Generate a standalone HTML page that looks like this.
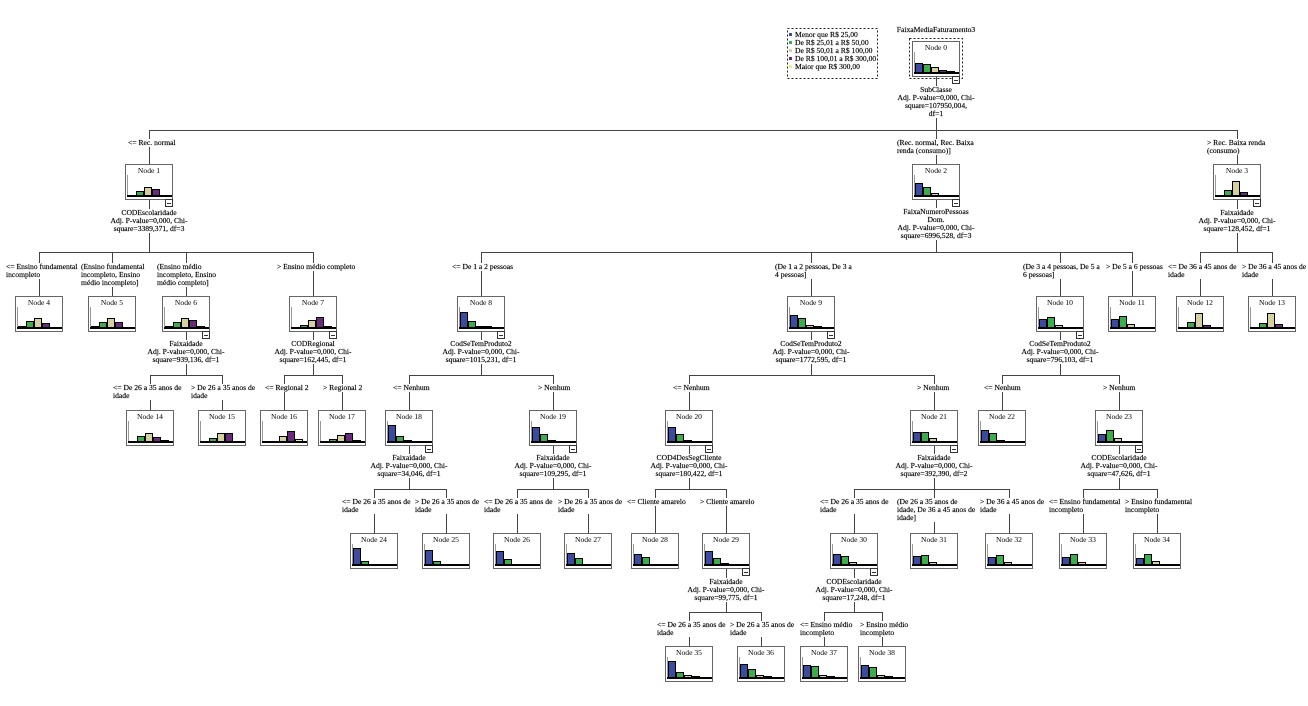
<!DOCTYPE html>
<html><head><meta charset="utf-8">
<style>
html,body{margin:0;padding:0;background:#fff}
body{width:1308px;height:706px;position:relative;overflow:hidden;font-family:"Liberation Serif",serif}
svg{position:absolute;left:0;top:0}
svg text{font-family:"Liberation Serif",serif;font-size:7.6px;fill:#000;text-anchor:middle}
.a{fill:#3b4ca0;stroke:#000}.g{fill:#3bae4c;stroke:#000}.e{fill:#d6cf9e;stroke:#000}.p{fill:#6b2b7c;stroke:#000}.y{fill:#eeee88;stroke:#000}
.s,.l,.lg{position:absolute;background:#fff;white-space:nowrap;font:7.6px/8px "Liberation Serif",serif;color:#000;-webkit-text-stroke:0.15px #000}
.s{transform:translateX(-50%);text-align:center}
.lg{background:transparent}
.sq{display:inline-block;width:3px;height:3px;margin-right:3px;vertical-align:1px}
</style></head><body>
<svg width="1308" height="706" viewBox="0 0 1308 706" shape-rendering="crispEdges">
<defs>
<g id="f"><rect x=".5" y=".5" width="47" height="35" fill="#fff" stroke="#666"/><path d="M2.5 11V31" stroke="#999"/><rect x="2" y="31" width="45" height="2" fill="#000"/></g>
<g id="tg"><rect x="40.5" y="35.5" width="7" height="7" fill="#fff" stroke="#333"/><path d="M42 39.5H46" stroke="#333"/></g>
</defs>
<path fill="none" stroke="#444" d="M936.5 77V130 M149 130.5H1238 M149.5 130V164 M936.5 130V164 M1237.5 130V164
M149.5 200V252 M39 252.5H314 M39.5 252V296 M112.5 252V296 M186.5 252V296 M313.5 252V296
M936.5 200V252 M481 252.5H1133 M481.5 252V296 M811.5 252V296 M1060.5 252V296 M1132.5 252V296
M1237.5 200V252 M1200 252.5H1273 M1200.5 252V296 M1272.5 252V296
M186.5 332V375 M150 375.5H223 M150.5 375V410 M222.5 375V410
M313.5 332V375 M284 375.5H343 M284.5 375V410 M342.5 375V410
M481.5 332V375 M409 375.5H554 M409.5 375V410 M553.5 375V410
M811.5 332V375 M689 375.5H935 M689.5 375V410 M934.5 375V410
M1060.5 332V375 M1002 375.5H1120 M1002.5 375V410 M1119.5 375V410
M409.5 446V489 M374 489.5H447 M374.5 489V533 M446.5 489V533
M553.5 446V489 M517 489.5H589 M517.5 489V533 M588.5 489V533
M689.5 446V489 M655 489.5H727 M655.5 489V533 M726.5 489V533
M934.5 446V489 M854 489.5H1010 M854.5 489V533 M934.5 489V533 M1009.5 489V533
M1119.5 446V489 M1083 489.5H1158 M1083.5 489V533 M1157.5 489V533
M726.5 569V612 M689 612.5H762 M689.5 612V646 M761.5 612V646
M854.5 569V612 M824 612.5H883 M824.5 612V646 M882.5 612V646"/>

<rect x="787.5" y="28.5" width="90" height="50" fill="none" stroke="#222" stroke-dasharray="2,2"/>
<rect x="909.5" y="38.5" width="53" height="40" fill="none" stroke="#222" stroke-dasharray="2,2"/>

<g transform="translate(912,41)"><use href="#f"/><text x="24" y="9">Node 0</text><rect class="a" x="3.5" y="22.5" width="7" height="9"/><rect class="g" x="11.5" y="23.5" width="7" height="8"/><rect class="e" x="19.5" y="26.5" width="7" height="5"/><rect class="p" x="27.5" y="29.5" width="7" height="2"/><rect class="y" x="35.5" y="30.5" width="7" height="1"/><use href="#tg"/></g>

<g transform="translate(125,164)"><use href="#f"/><text x="24" y="9">Node 1</text><rect class="g" x="11.5" y="27.5" width="7" height="4"/><rect class="e" x="19.5" y="23.5" width="7" height="8"/><rect class="p" x="27.5" y="25.5" width="7" height="6"/><use href="#tg"/></g>
<g transform="translate(912,164)"><use href="#f"/><text x="24" y="9">Node 2</text><rect class="a" x="3.5" y="19.5" width="7" height="12"/><rect class="g" x="11.5" y="23.5" width="7" height="8"/><rect class="e" x="19.5" y="29.5" width="7" height="2"/><use href="#tg"/></g>
<g transform="translate(1213,164)"><use href="#f"/><text x="24" y="9">Node 3</text><rect class="g" x="11.5" y="26.5" width="7" height="5"/><rect class="e" x="19.5" y="17.5" width="7" height="14"/><rect class="p" x="27.5" y="28.5" width="7" height="3"/><use href="#tg"/></g>

<g transform="translate(15,296)"><use href="#f"/><text x="24" y="9">Node 4</text><rect class="a" x="3.5" y="30.5" width="7" height="1"/><rect class="g" x="11.5" y="25.5" width="7" height="6"/><rect class="e" x="19.5" y="22.5" width="7" height="9"/><rect class="p" x="27.5" y="27.5" width="7" height="4"/></g>
<g transform="translate(88,296)"><use href="#f"/><text x="24" y="9">Node 5</text><rect class="a" x="3.5" y="30.5" width="7" height="1"/><rect class="g" x="11.5" y="26.5" width="7" height="5"/><rect class="e" x="19.5" y="22.5" width="7" height="9"/><rect class="p" x="27.5" y="26.5" width="7" height="5"/></g>
<g transform="translate(162,296)"><use href="#f"/><text x="24" y="9">Node 6</text><rect class="a" x="3.5" y="30.5" width="7" height="1"/><rect class="g" x="11.5" y="26.5" width="7" height="5"/><rect class="e" x="19.5" y="22.5" width="7" height="9"/><rect class="p" x="27.5" y="24.5" width="7" height="7"/><rect class="y" x="35.5" y="30.5" width="7" height="1"/><use href="#tg"/></g>
<g transform="translate(289,296)"><use href="#f"/><text x="24" y="9">Node 7</text><rect class="g" x="11.5" y="29.5" width="7" height="2"/><rect class="e" x="19.5" y="24.5" width="7" height="7"/><rect class="p" x="27.5" y="21.5" width="7" height="10"/><rect class="y" x="35.5" y="30.5" width="7" height="1"/><use href="#tg"/></g>
<g transform="translate(457,296)"><use href="#f"/><text x="24" y="9">Node 8</text><rect class="a" x="3.5" y="16.5" width="7" height="15"/><rect class="g" x="11.5" y="25.5" width="7" height="6"/><rect class="e" x="19.5" y="30.5" width="7" height="1"/><rect class="p" x="27.5" y="30.5" width="7" height="1"/><use href="#tg"/></g>
<g transform="translate(787,296)"><use href="#f"/><text x="24" y="9">Node 9</text><rect class="a" x="3.5" y="19.5" width="7" height="12"/><rect class="g" x="11.5" y="22.5" width="7" height="9"/><rect class="e" x="19.5" y="29.5" width="7" height="2"/><rect class="p" x="27.5" y="30.5" width="7" height="1"/><use href="#tg"/></g>
<g transform="translate(1036,296)"><use href="#f"/><text x="24" y="9">Node 10</text><rect class="a" x="3.5" y="23.5" width="7" height="8"/><rect class="g" x="11.5" y="21.5" width="7" height="10"/><rect class="e" x="19.5" y="29.5" width="7" height="2"/><use href="#tg"/></g>
<g transform="translate(1108,296)"><use href="#f"/><text x="24" y="9">Node 11</text><rect class="a" x="3.5" y="23.5" width="7" height="8"/><rect class="g" x="11.5" y="20.5" width="7" height="11"/><rect class="e" x="19.5" y="28.5" width="7" height="3"/></g>
<g transform="translate(1176,296)"><use href="#f"/><text x="24" y="9">Node 12</text><rect class="g" x="11.5" y="26.5" width="7" height="5"/><rect class="e" x="19.5" y="17.5" width="7" height="14"/><rect class="p" x="27.5" y="29.5" width="7" height="2"/></g>
<g transform="translate(1248,296)"><use href="#f"/><text x="24" y="9">Node 13</text><rect class="g" x="11.5" y="27.5" width="7" height="4"/><rect class="e" x="19.5" y="17.5" width="7" height="14"/><rect class="p" x="27.5" y="28.5" width="7" height="3"/></g>

<g transform="translate(126,410)"><use href="#f"/><text x="24" y="9">Node 14</text><rect class="g" x="11.5" y="26.5" width="7" height="5"/><rect class="e" x="19.5" y="23.5" width="7" height="8"/><rect class="p" x="27.5" y="27.5" width="7" height="4"/><rect class="y" x="35.5" y="30.5" width="7" height="1"/></g>
<g transform="translate(198,410)"><use href="#f"/><text x="24" y="9">Node 15</text><rect class="g" x="11.5" y="28.5" width="7" height="3"/><rect class="e" x="19.5" y="23.5" width="7" height="8"/><rect class="p" x="27.5" y="23.5" width="7" height="8"/></g>
<g transform="translate(260,410)"><use href="#f"/><text x="24" y="9">Node 16</text><rect class="e" x="19.5" y="26.5" width="7" height="5"/><rect class="p" x="27.5" y="21.5" width="7" height="10"/><rect class="y" x="35.5" y="29.5" width="7" height="2"/></g>
<g transform="translate(318,410)"><use href="#f"/><text x="24" y="9">Node 17</text><rect class="g" x="11.5" y="29.5" width="7" height="2"/><rect class="e" x="19.5" y="25.5" width="7" height="6"/><rect class="p" x="27.5" y="23.5" width="7" height="8"/><rect class="y" x="35.5" y="30.5" width="7" height="1"/></g>
<g transform="translate(385,410)"><use href="#f"/><text x="24" y="9">Node 18</text><rect class="a" x="3.5" y="15.5" width="7" height="16"/><rect class="g" x="11.5" y="26.5" width="7" height="5"/><rect class="e" x="19.5" y="30.5" width="7" height="1"/><use href="#tg"/></g>
<g transform="translate(529,410)"><use href="#f"/><text x="24" y="9">Node 19</text><rect class="a" x="3.5" y="17.5" width="7" height="14"/><rect class="g" x="11.5" y="24.5" width="7" height="7"/><rect class="e" x="19.5" y="30.5" width="7" height="1"/><use href="#tg"/></g>
<g transform="translate(665,410)"><use href="#f"/><text x="24" y="9">Node 20</text><rect class="a" x="3.5" y="17.5" width="7" height="14"/><rect class="g" x="11.5" y="24.5" width="7" height="7"/><rect class="e" x="19.5" y="30.5" width="7" height="1"/><use href="#tg"/></g>
<g transform="translate(910,410)"><use href="#f"/><text x="24" y="9">Node 21</text><rect class="a" x="3.5" y="22.5" width="7" height="9"/><rect class="g" x="11.5" y="22.5" width="7" height="9"/><rect class="e" x="19.5" y="28.5" width="7" height="3"/><use href="#tg"/></g>
<g transform="translate(978,410)"><use href="#f"/><text x="24" y="9">Node 22</text><rect class="a" x="3.5" y="20.5" width="7" height="11"/><rect class="g" x="11.5" y="23.5" width="7" height="8"/><rect class="e" x="19.5" y="30.5" width="7" height="1"/></g>
<g transform="translate(1095,410)"><use href="#f"/><text x="24" y="9">Node 23</text><rect class="a" x="3.5" y="24.5" width="7" height="7"/><rect class="g" x="11.5" y="20.5" width="7" height="11"/><rect class="e" x="19.5" y="28.5" width="7" height="3"/><use href="#tg"/></g>

<g transform="translate(350,533)"><use href="#f"/><text x="24" y="9">Node 24</text><rect class="a" x="3.5" y="15.5" width="7" height="16"/><rect class="g" x="11.5" y="28.5" width="7" height="3"/></g>
<g transform="translate(422,533)"><use href="#f"/><text x="24" y="9">Node 25</text><rect class="a" x="3.5" y="17.5" width="7" height="14"/><rect class="g" x="11.5" y="28.5" width="7" height="3"/></g>
<g transform="translate(493,533)"><use href="#f"/><text x="24" y="9">Node 26</text><rect class="a" x="3.5" y="18.5" width="7" height="13"/><rect class="g" x="11.5" y="26.5" width="7" height="5"/></g>
<g transform="translate(564,533)"><use href="#f"/><text x="24" y="9">Node 27</text><rect class="a" x="3.5" y="20.5" width="7" height="11"/><rect class="g" x="11.5" y="25.5" width="7" height="6"/></g>
<g transform="translate(631,533)"><use href="#f"/><text x="24" y="9">Node 28</text><rect class="a" x="3.5" y="21.5" width="7" height="10"/><rect class="g" x="11.5" y="24.5" width="7" height="7"/></g>
<g transform="translate(702,533)"><use href="#f"/><text x="24" y="9">Node 29</text><rect class="a" x="3.5" y="18.5" width="7" height="13"/><rect class="g" x="11.5" y="25.5" width="7" height="6"/><rect class="e" x="19.5" y="30.5" width="7" height="1"/><use href="#tg"/></g>
<g transform="translate(830,533)"><use href="#f"/><text x="24" y="9">Node 30</text><rect class="a" x="3.5" y="21.5" width="7" height="10"/><rect class="g" x="11.5" y="23.5" width="7" height="8"/><rect class="e" x="19.5" y="29.5" width="7" height="2"/><use href="#tg"/></g>
<g transform="translate(910,533)"><use href="#f"/><text x="24" y="9">Node 31</text><rect class="a" x="3.5" y="23.5" width="7" height="8"/><rect class="g" x="11.5" y="22.5" width="7" height="9"/><rect class="e" x="19.5" y="29.5" width="7" height="2"/></g>
<g transform="translate(985,533)"><use href="#f"/><text x="24" y="9">Node 32</text><rect class="a" x="3.5" y="24.5" width="7" height="7"/><rect class="g" x="11.5" y="22.5" width="7" height="9"/><rect class="e" x="19.5" y="29.5" width="7" height="2"/></g>
<g transform="translate(1059,533)"><use href="#f"/><text x="24" y="9">Node 33</text><rect class="a" x="3.5" y="24.5" width="7" height="7"/><rect class="g" x="11.5" y="21.5" width="7" height="10"/><rect class="e" x="19.5" y="29.5" width="7" height="2"/></g>
<g transform="translate(1133,533)"><use href="#f"/><text x="24" y="9">Node 34</text><rect class="a" x="3.5" y="25.5" width="7" height="6"/><rect class="g" x="11.5" y="21.5" width="7" height="10"/><rect class="e" x="19.5" y="28.5" width="7" height="3"/></g>

<g transform="translate(665,646)"><use href="#f"/><text x="24" y="9">Node 35</text><rect class="a" x="3.5" y="15.5" width="7" height="16"/><rect class="g" x="11.5" y="26.5" width="7" height="5"/><rect class="e" x="19.5" y="29.5" width="7" height="2"/><rect class="p" x="27.5" y="30.5" width="7" height="1"/></g>
<g transform="translate(737,646)"><use href="#f"/><text x="24" y="9">Node 36</text><rect class="a" x="3.5" y="18.5" width="7" height="13"/><rect class="g" x="11.5" y="23.5" width="7" height="8"/><rect class="e" x="19.5" y="29.5" width="7" height="2"/><rect class="p" x="27.5" y="30.5" width="7" height="1"/></g>
<g transform="translate(800,646)"><use href="#f"/><text x="24" y="9">Node 37</text><rect class="a" x="3.5" y="19.5" width="7" height="12"/><rect class="g" x="11.5" y="20.5" width="7" height="11"/><rect class="e" x="19.5" y="29.5" width="7" height="2"/><rect class="p" x="27.5" y="30.5" width="7" height="1"/></g>
<g transform="translate(858,646)"><use href="#f"/><text x="24" y="9">Node 38</text><rect class="a" x="3.5" y="19.5" width="7" height="12"/><rect class="g" x="11.5" y="21.5" width="7" height="10"/><rect class="e" x="19.5" y="29.5" width="7" height="2"/><rect class="p" x="27.5" y="30.5" width="7" height="1"/></g>
</svg>

<!-- legend & title -->
<div class="lg" style="left:789px;top:31px"><span class="sq" style="background:#3b4ca0"></span>Menor que R$ 25,00<br><span class="sq" style="background:#3bae4c"></span>De R$ 25,01 a R$ 50,00<br><span class="sq" style="background:#d6cf9e"></span>De R$ 50,01 a R$ 100,00<br><span class="sq" style="background:#6b2b7c"></span>De R$ 100,01 a R$ 300,00<br><span class="sq" style="background:#eeee88"></span>Maior que R$ 300,00</div>
<div class="s" style="left:936px;top:26px;background:transparent">FaixaMediaFaturamento3</div>

<!-- split texts -->
<div class="s" style="left:936px;top:86px">SubClasse<br>Adj. P-value=0,000, Chi-<br>square=107950,004,<br>df=1</div>
<div class="s" style="left:149px;top:209px">CODEscolaridade<br>Adj. P-value=0,000, Chi-<br>square=3389,371, df=3</div>
<div class="s" style="left:936px;top:208px">FaixaNumeroPessoas<br>Dom.<br>Adj. P-value=0,000, Chi-<br>square=6996,528, df=3</div>
<div class="s" style="left:1237px;top:209px">Faixaidade<br>Adj. P-value=0,000, Chi-<br>square=128,452, df=1</div>
<div class="s" style="left:186px;top:340px">Faixaidade<br>Adj. P-value=0,000, Chi-<br>square=939,136, df=1</div>
<div class="s" style="left:313px;top:340px">CODRegional<br>Adj. P-value=0,000, Chi-<br>square=162,445, df=1</div>
<div class="s" style="left:481px;top:340px">CodSeTemProduto2<br>Adj. P-value=0,000, Chi-<br>square=1015,231, df=1</div>
<div class="s" style="left:811px;top:340px">CodSeTemProduto2<br>Adj. P-value=0,000, Chi-<br>square=1772,595, df=1</div>
<div class="s" style="left:1060px;top:340px">CodSeTemProduto2<br>Adj. P-value=0,000, Chi-<br>square=796,103, df=1</div>
<div class="s" style="left:409px;top:454px">Faixaidade<br>Adj. P-value=0,000, Chi-<br>square=34,046, df=1</div>
<div class="s" style="left:553px;top:454px">Faixaidade<br>Adj. P-value=0,000, Chi-<br>square=109,295, df=1</div>
<div class="s" style="left:689px;top:454px">COD4DesSegCliente<br>Adj. P-value=0,000, Chi-<br>square=180,422, df=1</div>
<div class="s" style="left:934px;top:454px">Faixaidade<br>Adj. P-value=0,000, Chi-<br>square=392,390, df=2</div>
<div class="s" style="left:1119px;top:454px">CODEscolaridade<br>Adj. P-value=0,000, Chi-<br>square=47,626, df=1</div>
<div class="s" style="left:726px;top:578px">Faixaidade<br>Adj. P-value=0,000, Chi-<br>square=99,775, df=1</div>
<div class="s" style="left:854px;top:578px">CODEscolaridade<br>Adj. P-value=0,000, Chi-<br>square=17,248, df=1</div>

<!-- level 1 labels -->
<div class="l" style="left:128px;top:139px">&lt;= Rec. normal</div>
<div class="l" style="left:897px;top:139px">(Rec. normal, Rec. Baixa<br>renda (consumo)]</div>
<div class="l" style="left:1207px;top:139px">&gt; Rec. Baixa renda<br>(consumo)</div>

<!-- level 2 labels -->
<div class="l" style="left:6px;top:263px">&lt;= Ensino fundamental<br>incompleto</div>
<div class="l" style="left:81px;top:263px">(Ensino fundamental<br>incompleto, Ensino<br>médio incompleto]</div>
<div class="l" style="left:157px;top:263px">(Ensino médio<br>incompleto, Ensino<br>médio completo]</div>
<div class="l" style="left:277px;top:263px">&gt; Ensino médio completo</div>
<div class="l" style="left:452px;top:263px">&lt;= De 1 a 2 pessoas</div>
<div class="l" style="left:775px;top:263px">(De 1 a 2 pessoas, De 3 a<br>4 pessoas]</div>
<div class="l" style="left:1023px;top:263px">(De 3 a 4 pessoas, De 5 a<br>6 pessoas]</div>
<div class="l" style="left:1106px;top:263px">&gt; De 5 a 6 pessoas</div>
<div class="l" style="left:1168px;top:263px">&lt;= De 36 a 45 anos de<br>idade</div>
<div class="l" style="left:1242px;top:263px">&gt; De 36 a 45 anos de<br>idade</div>

<!-- level 3 labels -->
<div class="l" style="left:113px;top:384px">&lt;= De 26 a 35 anos de<br>idade</div>
<div class="l" style="left:191px;top:384px">&gt; De 26 a 35 anos de<br>idade</div>
<div class="l" style="left:265px;top:384px">&lt;= Regional 2</div>
<div class="l" style="left:323px;top:384px">&gt; Regional 2</div>
<div class="l" style="left:393px;top:384px">&lt;= Nenhum</div>
<div class="l" style="left:538px;top:384px">&gt; Nenhum</div>
<div class="l" style="left:673px;top:384px">&lt;= Nenhum</div>
<div class="l" style="left:917px;top:384px">&gt; Nenhum</div>
<div class="l" style="left:984px;top:384px">&lt;= Nenhum</div>
<div class="l" style="left:1103px;top:384px">&gt; Nenhum</div>

<!-- level 4 labels -->
<div class="l" style="left:342px;top:498px">&lt;= De 26 a 35 anos de<br>idade</div>
<div class="l" style="left:415px;top:498px">&gt; De 26 a 35 anos de<br>idade</div>
<div class="l" style="left:484px;top:498px">&lt;= De 26 a 35 anos de<br>idade</div>
<div class="l" style="left:558px;top:498px">&gt; De 26 a 35 anos de<br>idade</div>
<div class="l" style="left:627px;top:498px">&lt;= Cliente amarelo</div>
<div class="l" style="left:700px;top:498px">&gt; Cliente amarelo</div>
<div class="l" style="left:820px;top:498px">&lt;= De 26 a 35 anos de<br>idade</div>
<div class="l" style="left:897px;top:498px">(De 26 a 35 anos de<br>idade, De 36 a 45 anos de<br>idade]</div>
<div class="l" style="left:980px;top:498px">&gt; De 36 a 45 anos de<br>idade</div>
<div class="l" style="left:1049px;top:498px">&lt;= Ensino fundamental<br>incompleto</div>
<div class="l" style="left:1125px;top:498px">&gt; Ensino fundamental<br>incompleto</div>

<!-- level 5 labels -->
<div class="l" style="left:657px;top:621px">&lt;= De 26 a 35 anos de<br>idade</div>
<div class="l" style="left:730px;top:621px">&gt; De 26 a 35 anos de<br>idade</div>
<div class="l" style="left:800px;top:621px">&lt;= Ensino médio<br>incompleto</div>
<div class="l" style="left:860px;top:621px">&gt; Ensino médio<br>incompleto</div>
</body></html>
